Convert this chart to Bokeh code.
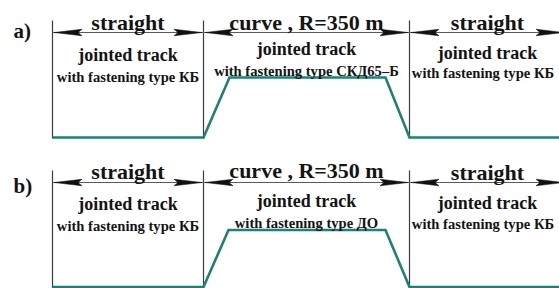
from bokeh.plotting import figure
from bokeh.models import Range1d
from bokeh.core.properties import value
from bokeh.embed import file_html
from bokeh.resources import INLINE

# ---------------- data ----------------
# section boundaries along the track (diagram units); last section runs past the picture edge
section_bounds = [52, 203, 409, 565]
section_names = ["straight", "curve , R=350 m", "straight"]
track_kind = ["jointed track", "jointed track", "jointed track"]
fastening_a = ["with fastening type КБ", "with fastening type СКД65–Б", "with fastening type КБ"]
fastening_b = ["with fastening type КБ", "with fastening type ДО", "with fastening type КБ"]
panel_labels = ["a)", "b)"]

# profile of the plotted quantity along the track (0 = straight level, 1 = curve level)
profile_x_a = [52, 203, 229, 385, 409, 565]
profile_level_a = [0, 0, 1, 1, 0, 0]
profile_x_b = [52, 203, 228, 385, 409, 565]
profile_level_b = [0, 0, 1, 1, 0, 0]

# ---------------- layout / style ----------------
FONT = value("Liberation Serif")
TXT = "#141414"
GREEN = "#1f8073"
FAST_DX = [0, 0, -4.5]   # keep the right-hand fastening caption inside the picture
panels = [
    dict(label=panel_labels[0], fast=fastening_a, px=profile_x_a, lv=profile_level_a,
         top=20, bottom=138, arrow_y=32, base=137, amp=60, label_y=30,
         head_y=[22, 22, 22], kind_y=[54, 48, 52], fast_y=[76, 70, 72]),
    dict(label=panel_labels[1], fast=fastening_b, px=profile_x_b, lv=profile_level_b,
         top=170, bottom=292, arrow_y=182, base=286.5, amp=57, label_y=185,
         head_y=[171, 170, 172], kind_y=[203, 200, 202], fast_y=[225, 222, 223]),
]

p = figure(width=559, height=288, x_range=Range1d(0, 559), y_range=Range1d(288, 0),
           output_backend="svg", toolbar_location=None, min_border=0)
p.axis.visible = False
p.grid.visible = False
p.outline_line_color = None
p.background_fill_color = "white"
p.border_fill_color = "white"

centers = [(section_bounds[i] + section_bounds[i + 1]) / 2 for i in range(len(section_names))]
fast_x = [c + d for c, d in zip(centers, FAST_DX)]
L, HH, NOTCH = 28, 3.3, 4

for pn in panels:
    # vertical boundary lines
    for xb in section_bounds[:3]:
        p.line([xb, xb], [pn["top"], pn["bottom"]], line_color="#3c3c3c", line_width=1.2)
    # dimension line
    ay = pn["arrow_y"]
    p.line([section_bounds[0], section_bounds[-1]], [ay, ay], line_color="#5a5a5a", line_width=1)
    xs, ys = [], []
    for i in range(len(section_names)):
        x0, x1 = section_bounds[i] + 1.5, section_bounds[i + 1] - 1.5
        xs.append([x0, x0 + L, x0 + L - NOTCH, x0 + L])
        ys.append([ay, ay - HH, ay, ay + HH])
        xs.append([x1, x1 - L, x1 - L + NOTCH, x1 - L])
        ys.append([ay, ay - HH, ay, ay + HH])
    p.patches(xs, ys, fill_color="#111111", line_color="#111111", line_width=0.5)
    # profile line
    yy = [pn["base"] - pn["amp"] * v for v in pn["lv"]]
    p.line(pn["px"], yy, line_color=GREEN, line_width=2.6, line_join="miter")
    # texts
    p.text(x=centers, y=pn["head_y"], text=section_names, text_font=FONT,
           text_font_size="22px", text_font_style="bold", text_align="center",
           text_baseline="alphabetic", text_color=TXT)
    p.text(x=centers, y=pn["kind_y"], text=track_kind, text_font=FONT,
           text_font_size="18px", text_font_style="bold", text_align="center",
           text_baseline="alphabetic", text_color=TXT)
    p.text(x=fast_x, y=pn["fast_y"], text=pn["fast"], text_font=FONT,
           text_font_size="14.6px", text_font_style="bold", text_align="center",
           text_baseline="alphabetic", text_color=TXT)
    p.text(x=[13], y=[pn["label_y"]], text=[pn["label"]], text_font=FONT,
           text_font_size="21px", text_font_style="bold", text_align="left",
           text_baseline="alphabetic", text_color=TXT)

open("out.html", "w").write(file_html(p, INLINE))
